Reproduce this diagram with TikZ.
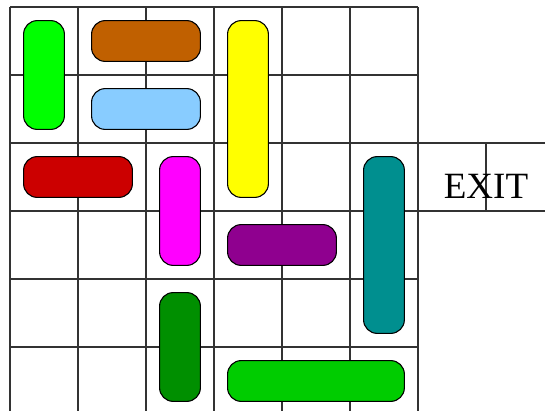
\documentclass[tikz,border=0pt]{standalone}
\usepackage{fontspec}
\setmainfont{Liberation Serif}
\usepackage{tikz}

\definecolor{cargreen}{HTML}{00FF00}
\definecolor{carbrown}{HTML}{C06000}
\definecolor{carblue}{HTML}{88CCFF}
\definecolor{caryellow}{HTML}{FFFF00}
\definecolor{carred}{HTML}{CC0000}
\definecolor{carmagenta}{HTML}{FF00FF}
\definecolor{carteal}{HTML}{008F8F}
\definecolor{carpurple}{HTML}{8F008F}
\definecolor{cardkgreen}{HTML}{008F00}
\definecolor{carltgreen}{HTML}{00CC00}

\begin{document}
\begin{tikzpicture}[
  x=1cm, y=1cm,
  gridline/.style={line width=0.6pt, black!80},
  car/.style={draw, line width=0.45pt, rounded corners=0.2cm, inner sep=0pt},
  vcar/.style={car, minimum width=0.6cm},
  hcar/.style={car, minimum height=0.6cm}
]
\useasboundingbox (-0.147,0.059) rectangle (7.868,6.103);
% board and exit lane
\draw[gridline] (0,0) grid (6,6);
\draw[gridline] (6,3) -- (8,3) (6,4) -- (8,4) (7,3) -- (7,4);
\node[anchor=base, font=\fontsize{15.5}{18}\selectfont] (exit) at (7,3.19) {EXIT};
% cars
\node[vcar, fill=cargreen, minimum height=1.6cm] (green) at (0.5,5) {};
\node[hcar, fill=carbrown, minimum width=1.6cm] (brown) at (2,5.5) {};
\node[hcar, fill=carblue, minimum width=1.6cm] (blue) at (2,4.5) {};
\node[vcar, fill=caryellow, minimum height=2.6cm] (yellow) at (3.5,4.5) {};
\node[hcar, fill=carred, minimum width=1.6cm] (red) at (1,3.5) {};
\node[vcar, fill=carmagenta, minimum height=1.6cm] (magenta) at (2.5,3) {};
\node[vcar, fill=carteal, minimum height=2.6cm] (teal) at (5.5,2.5) {};
\node[hcar, fill=carpurple, minimum width=1.6cm] (purple) at (4,2.5) {};
\node[vcar, fill=cardkgreen, minimum height=1.6cm] (dkgreen) at (2.5,1) {};
\node[hcar, fill=carltgreen, minimum width=2.6cm] (ltgreen) at (4.5,0.5) {};
\end{tikzpicture}
\end{document}
